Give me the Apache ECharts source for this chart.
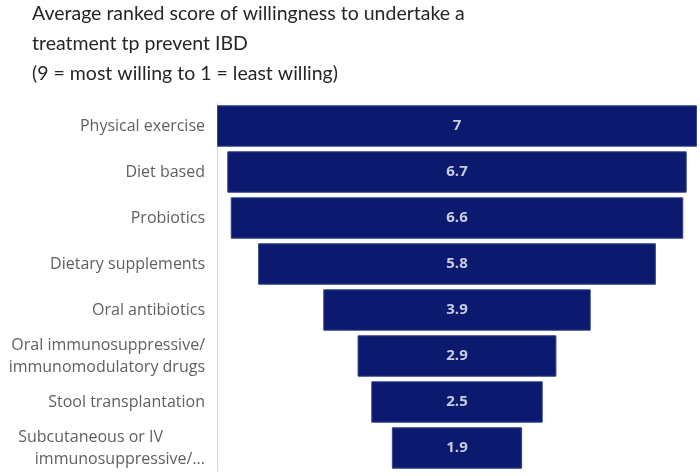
<!DOCTYPE html>
<html>
<head>
<meta charset="utf-8">
<script src="https://cdn.jsdelivr.net/npm/echarts@6/dist/echarts.min.js"></script>
<style>
  html, body { margin: 0; padding: 0; background: #fff; }
  #chart { width: 700px; height: 476px; }
</style>
</head>
<body>
<div id="chart"></div>
<script>
const treatments = [
  'Physical exercise',
  'Diet based',
  'Probiotics',
  'Dietary supplements',
  'Oral antibiotics',
  'Oral immunosuppressive/\nimmunomodulatory drugs',
  'Stool transplantation',
  'Subcutaneous or IV\nimmunosuppressive/...'
];
const scores = [7, 6.7, 6.6, 5.8, 3.9, 2.9, 2.5, 1.9];
const maxScore = 7;

// invisible spacer so every bar sits centred (funnel look)
const spacer = scores.map(v => (maxScore - v) / 2);

const chart = echarts.init(document.getElementById('chart'));

chart.setOption({
  animation: false,
  title: {
    text: 'Average ranked score of willingness to undertake a\ntreatment tp prevent IBD\n(9 = most willing to 1 = least willing)',
    left: 27,
    top: -6,
    textStyle: {
      fontFamily: 'Lato',
      fontWeight: 'normal',
      fontSize: 19.5,
      lineHeight: 30,
      color: '#262626'
    }
  },
  grid: { left: 217, right: 3, top: 103, bottom: 5 },
  xAxis: {
    type: 'value',
    min: 0,
    max: maxScore,
    show: false
  },
  yAxis: {
    type: 'category',
    inverse: true,
    data: treatments,
    axisLine: { show: true, lineStyle: { color: '#d9d9d9', width: 1 } },
    axisTick: { show: false },
    axisLabel: {
      color: '#606060',
      fontFamily: 'Open Sans',
      fontSize: 16,
      lineHeight: 22,
      margin: 12,
      formatter: function (v) {
        if (v.indexOf('Subcutaneous') === 0) {
          const parts = v.split('\n');
          return '{a|' + parts[0] + '}\n' + parts[1];
        }
        return v;
      },
      rich: {
        a: { color: '#606060', fontFamily: 'Open Sans', fontSize: 16, lineHeight: 22, padding: [0, 42, 0, 0] }
      }
    }
  },
  series: [
    {
      name: 'spacer',
      type: 'bar',
      stack: 'funnel',
      data: spacer,
      itemStyle: { color: 'transparent' },
      silent: true,
      barCategoryGap: '10%'
    },
    {
      name: 'score',
      type: 'bar',
      stack: 'funnel',
      data: scores,
      barCategoryGap: '10%',
      itemStyle: { color: '#0b1a6f', borderColor: '#34438a', borderWidth: 1 },
      label: {
        show: true,
        position: 'inside',
        color: '#c9cde2',
        fontFamily: 'Open Sans',
        fontWeight: 'bold',
        fontSize: 15
      }
    }
  ]
});
</script>
</body>
</html>
